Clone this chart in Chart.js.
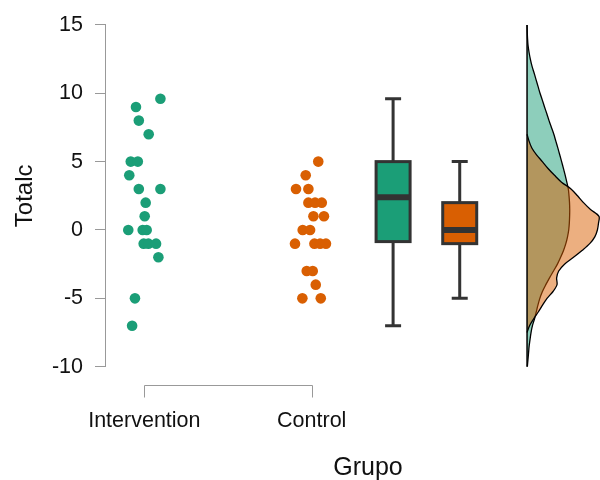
<!DOCTYPE html>
<html>
<head>
<meta charset="utf-8">
<script src="https://cdn.jsdelivr.net/npm/chart.js@4.4.1/dist/chart.umd.min.js"></script>
<style>
  html, body { margin: 0; padding: 0; background: #ffffff; }
  #wrap { width: 600px; height: 480px; }
</style>
</head>
<body>
<div id="wrap"><canvas id="totalChart"></canvas></div>
<script>
/* data */
const groupLabels = ["Intervention", "Control"];
const groupPositions = [1, 2];
const yTicks = [-10, -5, 0, 5, 10, 15];

const interventionValues = [9.6, 9, 8, 7, 5, 5, 4, 3, 3, 2, 1, 0, 0, 0, -1, -1, -1, -2, -5, -7];
const interventionJitter = [0.096, -0.05, -0.033, 0.026, -0.081, -0.039, -0.09, -0.033, 0.096, 0.008, 0.002, -0.096, -0.01, 0.014, -0.004, 0.024, 0.07, 0.084, -0.056, -0.073];

const controlValues = [5, 4, 3, 3, 2, 2, 2, 1, 1, 0, 0, -1, -1, -1, -1, -3, -3, -4, -5, -5];
const controlJitter = [0.039, -0.036, -0.094, -0.02, -0.02, 0.02, 0.06, 0.01, 0.073, -0.054, -0.01, -0.1, 0.016, 0.05, 0.085, -0.03, 0.006, 0.024, -0.056, 0.054];

/* box plots: intervention, control */
const boxPositions = [2.486, 2.884];
const boxMin = [-7, -5];
const boxQ1 = [-0.85, -1];
const boxMedian = [2.4, 0];
const boxQ3 = [5, 2];
const boxMax = [9.6, 5];

/* densities (drawn sideways) */
const greenDensityY = [-10, -9.5, -9, -8.5, -8, -7.5, -7, -6.5, -6, -5.5, -5, -4.5, -4, -3.5, -3, -2.5, -2, -1.5, -1, -0.5,
  0, 0.5, 1, 1.5, 2, 2.5, 3, 3.5, 4, 4.5, 5, 5.5, 6, 6.5, 7, 7.5, 8, 8.5, 9, 9.5, 10, 10.5, 11, 11.5, 12, 12.5, 13, 13.5, 14, 14.5, 15];
const greenDensity = [0.0006, 0.0018, 0.003, 0.0042, 0.006, 0.008, 0.0108, 0.015, 0.0184, 0.0218, 0.0256, 0.0308, 0.0376, 0.045, 0.053, 0.0608, 0.0672, 0.073, 0.0776, 0.081,
  0.0834, 0.0846, 0.0852, 0.0854, 0.085, 0.084, 0.0826, 0.0796, 0.0764, 0.0728, 0.0692, 0.0654, 0.0616, 0.0576, 0.0536, 0.0488, 0.044, 0.0396, 0.035, 0.0306, 0.026, 0.022, 0.018, 0.014, 0.0098, 0.0066, 0.004, 0.002, 0.001, 0.0004, 0];

const orangeDensityY = [-7.5, -7, -6.5, -6, -5.5, -5, -4.5, -4, -3.5, -3, -2.5, -2, -1.5, -1, -0.5, 0, 0.5, 1, 1.5, 2, 2.5, 3, 3.5, 4, 4.5, 5, 5.5, 6, 6.5, 7];
const orangeDensity = [0, 0.005, 0.0132, 0.0224, 0.031, 0.04, 0.052, 0.06, 0.0592, 0.0634, 0.075, 0.093, 0.11, 0.1254, 0.1356, 0.1408, 0.143, 0.144, 0.127, 0.113, 0.101, 0.088, 0.069, 0.055, 0.042, 0.0306, 0.019, 0.0096, 0.004, 0];

const green = "#1b9e77";
const orange = "#d95f02";
const fontFamily = "'Liberation Sans', Arial, sans-serif";

function toPoints(values, jitter, center) {
  return values.map((v, i) => ({ x: center + jitter[i], y: v }));
}

function toDensity(ys, ds) {
  return ys.map((v, i) => ({ x: ds[i], y: v }));
}

/* boxes, density baseline, x bracket and title */
const extrasPlugin = {
  id: "extras",
  afterDatasetsDraw(chart) {
    const { ctx, scales } = chart;
    const xs = scales.x, ys = scales.y, xd = scales.xd;
    const colors = [green, orange];

    ctx.save();
    boxPositions.forEach((pos, i) => {
      const cx = xs.getPixelForValue(pos);
      const half = 17;
      const cap = 8;
      ctx.strokeStyle = "#333333";
      ctx.lineWidth = 3;
      ctx.beginPath();
      ctx.moveTo(cx, ys.getPixelForValue(boxMax[i]));
      ctx.lineTo(cx, ys.getPixelForValue(boxMin[i]));
      ctx.moveTo(cx - cap, ys.getPixelForValue(boxMax[i]));
      ctx.lineTo(cx + cap, ys.getPixelForValue(boxMax[i]));
      ctx.moveTo(cx - cap, ys.getPixelForValue(boxMin[i]));
      ctx.lineTo(cx + cap, ys.getPixelForValue(boxMin[i]));
      ctx.stroke();

      const top = ys.getPixelForValue(boxQ3[i]);
      const bottom = ys.getPixelForValue(boxQ1[i]);
      ctx.fillStyle = colors[i];
      ctx.fillRect(cx - half, top, half * 2, bottom - top);
      ctx.strokeRect(cx - half, top, half * 2, bottom - top);

      ctx.lineWidth = 6;
      ctx.beginPath();
      ctx.moveTo(cx - half, ys.getPixelForValue(boxMedian[i]));
      ctx.lineTo(cx + half, ys.getPixelForValue(boxMedian[i]));
      ctx.stroke();
    });

    // density baseline
    const bx = xd.getPixelForValue(0);
    ctx.strokeStyle = "#000000";
    ctx.lineWidth = 1.5;
    ctx.beginPath();
    ctx.moveTo(bx, ys.getPixelForValue(greenDensityY[0]));
    ctx.lineTo(bx, ys.getPixelForValue(greenDensityY[greenDensityY.length - 1]));
    ctx.stroke();
    ctx.restore();
  },
  afterDraw(chart) {
    const { ctx, chartArea, scales } = chart;
    const left = Math.round(scales.x.getPixelForValue(groupPositions[0])) + 0.5;
    const right = Math.round(scales.x.getPixelForValue(groupPositions[1])) + 0.5;
    const lineY = Math.round(chartArea.bottom + 18) + 0.5;

    ctx.save();
    ctx.strokeStyle = "#999999";
    ctx.lineWidth = 1;
    ctx.beginPath();
    ctx.moveTo(left, lineY + 12);
    ctx.lineTo(left, lineY);
    ctx.lineTo(right, lineY);
    ctx.lineTo(right, lineY + 12);
    ctx.stroke();

    ctx.fillStyle = "#111111";
    ctx.font = "25px " + fontFamily;
    ctx.textAlign = "center";
    ctx.textBaseline = "alphabetic";
    ctx.fillText("Grupo", 368, 475);
    ctx.restore();
  }
};

const totalChart = new Chart(document.querySelector("#totalChart"), {
  type: "scatter",
  data: {
    datasets: [
      {
        label: groupLabels[0],
        data: toPoints(interventionValues, interventionJitter, groupPositions[0]),
        backgroundColor: green,
        borderWidth: 0,
        pointRadius: 5.3
      },
      {
        label: groupLabels[1],
        data: toPoints(controlValues, controlJitter, groupPositions[1]),
        backgroundColor: orange,
        borderWidth: 0,
        pointRadius: 5.3
      },
      {
        type: "line",
        label: "Control density",
        indexAxis: "y",
        xAxisID: "xd",
        data: toDensity(orangeDensityY, orangeDensity),
        borderColor: "#000000",
        borderWidth: 1.3,
        backgroundColor: "rgba(217, 95, 2, 0.5)",
        fill: "origin",
        pointRadius: 0,
        tension: 0.3,
        order: 1
      },
      {
        type: "line",
        label: "Intervention density",
        indexAxis: "y",
        xAxisID: "xd",
        data: toDensity(greenDensityY, greenDensity),
        borderColor: "#000000",
        borderWidth: 1.3,
        backgroundColor: "rgba(27, 158, 119, 0.5)",
        fill: "origin",
        pointRadius: 0,
        tension: 0.3,
        order: 2
      }
    ]
  },
  options: {
    responsive: true,
    maintainAspectRatio: false,
    animation: false,
    layout: { autoPadding: false, padding: { top: 24, right: 0, bottom: 0, left: 0 } },
    plugins: {
      legend: { display: false },
      tooltip: { enabled: false }
    },
    scales: {
      x: {
        type: "linear",
        min: 0.765,
        max: 3.722,
        afterBuildTicks: scale => { scale.ticks = groupPositions.map(v => ({ value: v })); },
        afterFit: scale => { scale.height = 113.3; },
        border: { display: false },
        grid: { display: false },
        ticks: {
          autoSkip: false,
          maxRotation: 0,
          padding: 33,
          color: "#111111",
          font: { family: fontFamily, size: 21.5 },
          callback: (value, index) => groupLabels[index]
        }
      },
      xd: {
        type: "linear",
        display: false,
        min: -0.8446,
        max: 0.146
      },
      y: {
        min: -10,
        max: 15,
        afterBuildTicks: scale => { scale.ticks = yTicks.map(v => ({ value: v })); },
        afterFit: scale => { scale.width = 105; },
        border: { display: true, color: "#999999", width: 1 },
        grid: { drawOnChartArea: false, drawTicks: true, tickLength: 10, color: "#999999" },
        ticks: {
          padding: 12,
          color: "#111111",
          font: { family: fontFamily, size: 21.5 }
        },
        title: {
          display: true,
          text: "Totalc",
          color: "#111111",
          font: { family: fontFamily, size: 24 },
          padding: { top: 11, bottom: 0 }
        }
      }
    }
  },
  plugins: [extrasPlugin]
});
</script>
</body>
</html>
